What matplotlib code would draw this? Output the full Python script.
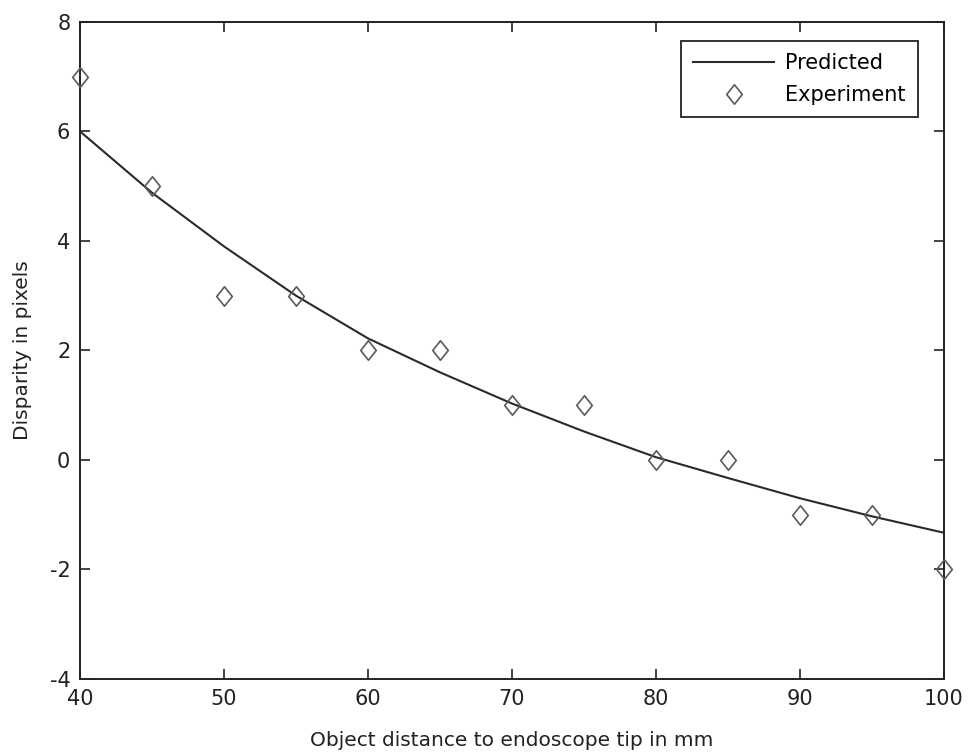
import matplotlib
matplotlib.use("Agg")
import matplotlib.pyplot as plt
from matplotlib.path import Path

# Data
distance_mm = [40, 45, 50, 55, 60, 65, 70, 75, 80, 85, 90, 95, 100]
predicted = [6.0, 4.88, 3.9, 3.0, 2.22, 1.6, 1.03, 0.52, 0.05, -0.33, -0.7, -1.03, -1.33]
experiment = [7, 5, 3, 3, 2, 2, 1, 1, 0, 0, -1, -1, -2]
xticks = [40, 50, 60, 70, 80, 90, 100]
yticks = [-4, -2, 0, 2, 4, 6, 8]

plt.rcParams['font.family'] = ['DejaVu Sans']
plt.rcParams['axes.unicode_minus'] = False

fig = plt.figure(figsize=(9.69, 7.56), dpi=100)
ax = fig.add_axes([0.0826, 0.102, 0.8914, 0.869])

diamond = Path([(0, 1), (0.8, 0), (0, -1), (-0.8, 0), (0, 1)],
               [Path.MOVETO, Path.LINETO, Path.LINETO, Path.LINETO, Path.CLOSEPOLY])

ax.plot(distance_mm, predicted, color='#2a2a2a', lw=1.5, label='Predicted')
ax.plot(distance_mm, experiment, linestyle='none', marker=diamond, markersize=14,
        markerfacecolor='none', markeredgecolor='#5a5a5a', markeredgewidth=1.2,
        label='Experiment', clip_on=False, zorder=3)

ax.set_xlim(40, 100)
ax.set_ylim(-4, 8)
ax.set_xticks(xticks)
ax.set_yticks(yticks)
ax.tick_params(direction='in', length=7, width=1.2, top=True, right=True,
               labelsize=15, pad=7, colors='#222222')
for s in ax.spines.values():
    s.set_linewidth(1.4)
    s.set_color('#222222')

ax.set_xlabel('Object distance to endoscope tip in mm', fontsize=14.5, color='#222222', labelpad=16)
ax.set_ylabel('Disparity in pixels', fontsize=14.5, color='#222222', labelpad=13)

leg = ax.legend(loc='upper right', bbox_to_anchor=(0.970, 0.971), borderaxespad=0,
                fontsize=15, frameon=True, fancybox=False, framealpha=1,
                edgecolor='#222222', handlelength=3.9, borderpad=0.6,
                labelspacing=0.55, handletextpad=0.5)
leg.get_frame().set_linewidth(1.3)

fig.savefig('out.png', dpi=100)
